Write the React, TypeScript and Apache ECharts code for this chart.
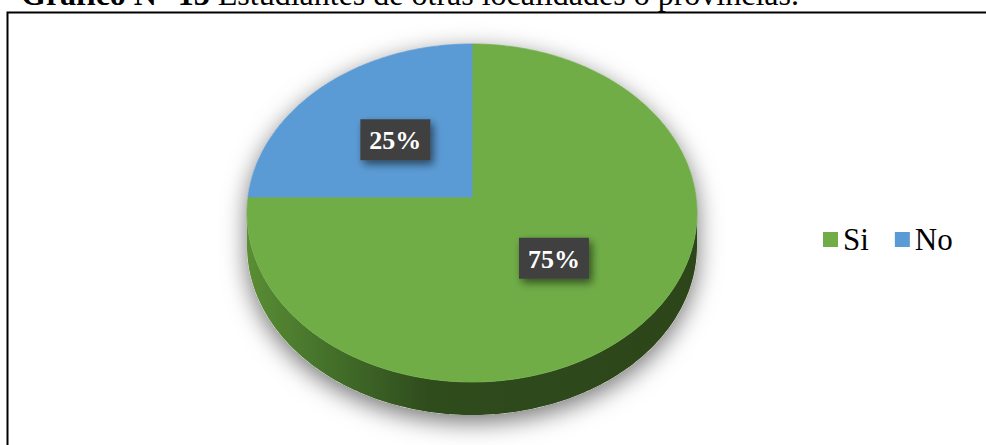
import React, { useEffect, useRef } from 'react';
import * as echarts from 'echarts';

// ---- data ----
const categories: string[] = ['Si', 'No'];
const values: number[] = [75, 25];
const titleBold = 'Gráfico N° 13';
const titleRest = ' Estudiantes de otras localidades o provincias.';

// ---- styles ----
const topColors = ['#70ad47', '#5b9bd5'];
const sideStops = [
  [
    { offset: 0, color: '#5a8d34' },
    { offset: 0.18, color: '#44712a' },
    { offset: 0.4, color: '#2f4c1d' },
    { offset: 1, color: '#2c4519' },
  ],
  [
    { offset: 0, color: '#4a7fb0' },
    { offset: 0.4, color: '#2f5478' },
    { offset: 1, color: '#2a4a6a' },
  ],
];
const SERIF = 'Liberation Serif';

// pie geometry (layout)
const G = { cx: 472, cy: 213, rx: 225, ry: 169, c: -0.0947, h: 33 };

const total = values.reduce((a, b) => a + b, 0);
const starts = values.map((_, i) => values.slice(0, i).reduce((a, b) => a + b, 0));

function project(theta: number, r: number): number[] {
  const ux = r * Math.sin(theta);
  const uy = -r * Math.cos(theta);
  const d = 1 + G.c * uy;
  const xp = (ux * Math.sqrt(1 - G.c * G.c)) / d;
  const yp = (uy + G.c) / d;
  return [G.cx + G.rx * xp, G.cy + G.ry * yp];
}

const makeSliceRender = (i: number) => () => {
  const a0 = (2 * Math.PI * starts[i]) / total;
  const a1 = a0 + (2 * Math.PI * values[i]) / total;
  const n = Math.max(2, Math.ceil((360 * values[i]) / total));
  const arc: number[][] = [];
  for (let k = 0; k <= n; k++) arc.push(project(a0 + ((a1 - a0) * k) / n, 1));
  const apex = project(0, 0);
  const children: any[] = [];
  const runs: number[][][] = [];
  let run: number[][] = [];
  arc.forEach((p) => {
    if (p[1] >= G.cy - 0.01) run.push(p);
    else {
      if (run.length > 1) runs.push(run);
      run = [];
    }
  });
  if (run.length > 1) runs.push(run);
  runs.forEach((r) => {
    const pts = r.concat(r.slice().reverse().map((p) => [p[0], p[1] + G.h]));
    children.push({
      type: 'polygon',
      shape: { points: pts },
      style: {
        fill: {
          type: 'linear',
          x: G.cx - G.rx,
          y: 0,
          x2: G.cx + G.rx,
          y2: 0,
          global: true,
          colorStops: sideStops[i],
        },
      },
    });
  });
  children.push({
    type: 'polygon',
    shape: { points: [apex, ...arc] },
    style: { fill: topColors[i], stroke: topColors[i], lineWidth: 0.8 },
  });
  const m = project((a0 + a1) / 2, 0.5);
  children.push({
    type: 'rect',
    shape: { x: m[0] - 35, y: m[1] - 20.5, width: 70, height: 41 },
    style: {
      fill: '#414141',
      shadowBlur: 8,
      shadowOffsetX: 3,
      shadowOffsetY: 4,
      shadowColor: 'rgba(0,0,0,0.55)',
    },
  });
  children.push({
    type: 'text',
    x: m[0],
    y: m[1] + 1,
    style: {
      text: Math.round((values[i] / total) * 100) + '%',
      fill: '#ffffff',
      fontFamily: SERIF,
      fontWeight: 'bold',
      fontSize: 26,
      align: 'center',
      verticalAlign: 'middle',
    },
  });
  return { type: 'group', children };
};

const shadowRender = () => {
  const pts: number[][] = [];
  const n = 240;
  for (let k = 0; k <= n; k++) {
    const t = Math.PI + (Math.PI * k) / n;
    pts.push([G.cx + G.rx * Math.cos(t), G.cy + G.ry * Math.sin(t)]);
  }
  for (let k = 0; k <= n; k++) {
    const t = (Math.PI * k) / n;
    pts.push([G.cx + G.rx * Math.cos(t), G.cy + G.ry * Math.sin(t) + G.h]);
  }
  return {
    type: 'polygon',
    shape: { points: pts },
    style: {
      fill: '#ffffff',
      shadowBlur: 24,
      shadowOffsetY: 7,
      shadowColor: 'rgba(0,0,0,0.55)',
    },
  };
};

export default function App() {
  const ref = useRef<HTMLDivElement>(null);
  useEffect(() => {
    if (!ref.current) return;
    const chart = echarts.init(ref.current, null, { renderer: 'svg' });
    const option: any = {
      animation: false,
      backgroundColor: '#ffffff',
      color: topColors,
      legend: {
        data: categories,
        left: 818,
        top: 219,
        orient: 'horizontal',
        icon: 'rect',
        itemWidth: 15,
        itemHeight: 15,
        itemGap: 26,
        textStyle: { fontFamily: SERIF, fontSize: 31, color: '#000000' },
        selectedMode: false,
      },
      graphic: [
        {
          type: 'polyline',
          shape: { points: [[7.5, 445], [7.5, 12.5], [986, 12.5]] },
          style: { stroke: '#000000', lineWidth: 2, fill: 'none' },
          z: 10,
        },
        {
          type: 'text',
          x: 21,
          y: -6,
          style: {
            text: '{b|' + titleBold + '}{r|' + titleRest + '}',
            fontFamily: SERIF,
            fontSize: 32,
            fill: '#000000',
            verticalAlign: 'middle',
            rich: {
              b: { fontWeight: 'bold', fontSize: 32, fontFamily: SERIF, fill: '#000000' },
              r: { fontWeight: 'normal', fontSize: 32, fontFamily: SERIF, fill: '#000000' },
            },
          },
          z: 10,
        },
      ],
      series: [
        {
          type: 'custom',
          name: '_shadow',
          coordinateSystem: 'none',
          data: [0],
          renderItem: shadowRender,
          z: 1,
          silent: true,
        },
        ...categories.map((name, i) => ({
          type: 'custom',
          name,
          coordinateSystem: 'none',
          data: [values[i]],
          itemStyle: { color: topColors[i] },
          renderItem: makeSliceRender(i),
          z: 2,
          silent: true,
        })),
      ],
    };
    chart.setOption(option);
    return () => chart.dispose();
  }, []);
  return (
    <div
      ref={ref}
      style={{ position: 'absolute', left: 0, top: 0, width: 986, height: 445 }}
    />
  );
}
